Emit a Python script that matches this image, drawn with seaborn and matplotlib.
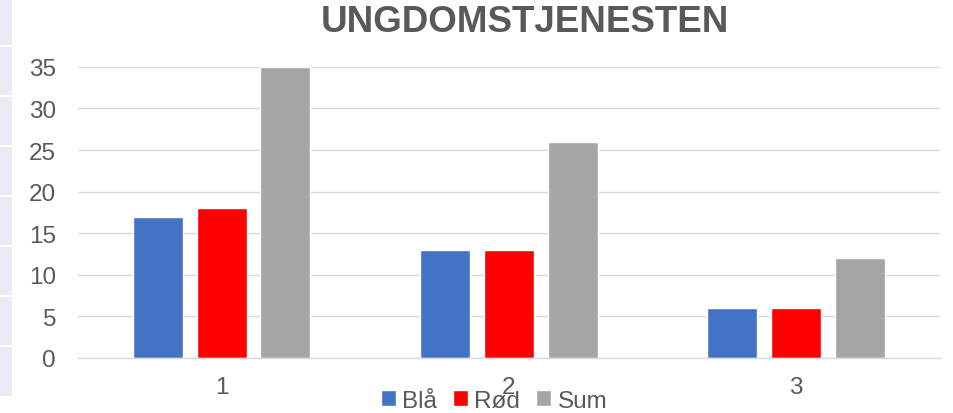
import numpy as np
import pandas as pd
import matplotlib
matplotlib.use("Agg")
import matplotlib.pyplot as plt
import seaborn as sns
from matplotlib.patches import Rectangle

# --- DATA
categories = ["1", "2", "3"]
series = ["Blå", "Rød", "Sum"]
blaa = [17, 13, 6]
roed = [18, 13, 6]
total = [35, 26, 12]
yticks = [0, 5, 10, 15, 20, 25, 30, 35]

colors = {"Blå": "#4472C4", "Rød": "#FF0000", "Sum": "#A5A5A5"}

df = pd.DataFrame({
    "kategori": categories * 3,
    "serie": ["Blå"] * 3 + ["Rød"] * 3 + ["Sum"] * 3,
    "verdi": blaa + roed + total,
})

# --- PLOT
sns.set_theme(style="white")
plt.rcParams["font.family"] = ["Liberation Sans", "DejaVu Sans"]

fig = plt.figure(figsize=(9.54, 4.14), dpi=100)
ax = fig.add_axes([0.082, 0.133, 0.903, 0.703])

sns.barplot(data=df, x="kategori", y="verdi", hue="serie", order=categories,
            hue_order=series, palette=colors, width=0.665, gap=0.215,
            saturation=1, ax=ax, legend=True)

ax.set_xlim(-0.5, 2.5)
ax.set_ylim(0, 35)
ax.set_yticks(yticks)
ax.yaxis.grid(True, color="#D9D9D9", linewidth=1)
ax.set_axisbelow(True)
for s in ["top", "right", "left"]:
    ax.spines[s].set_visible(False)
ax.spines["bottom"].set_color("#D9D9D9")
ax.spines["bottom"].set_linewidth(1)
ax.tick_params(axis="both", length=0, labelsize=17.5, labelcolor="#595959")
ax.tick_params(axis="x", pad=13)
ax.tick_params(axis="y", pad=16)
ax.set_xlabel("")
ax.set_ylabel("")

fig.text(0.550, 0.945, "UNGDOMSTJENESTEN", ha="center", va="center",
         fontsize=26.5, fontweight="bold", color="#595959")

leg = ax.legend(loc="center", bbox_to_anchor=(0.518, 0.03),
                bbox_transform=fig.transFigure, ncol=3, frameon=False,
                fontsize=17.5, handlelength=0.6, handleheight=0.6,
                handletextpad=0.28, columnspacing=0.65)
for t in leg.get_texts():
    t.set_color("#595959")

# spreadsheet cells peeking in at left edge
for i in range(8):
    top = 0 if i == 0 else i * 50 - 2
    bottom = i * 50 + 46 if i < 7 else 397
    fig.patches.append(Rectangle((0, 1 - bottom / 414), 12 / 954,
                                 (bottom - top) / 414,
                                 transform=fig.transFigure,
                                 facecolor="#E9EBF5", edgecolor="none"))

fig.savefig("out.png", dpi=100)
